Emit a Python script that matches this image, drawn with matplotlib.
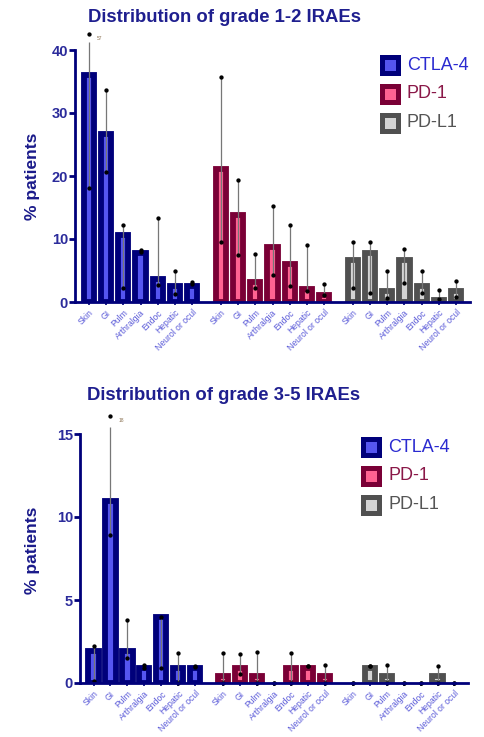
import matplotlib
matplotlib.use("Agg")
import matplotlib.pyplot as plt
from matplotlib.patches import Rectangle
import numpy as np

plt.rcParams['font.family'] = ['Liberation Sans', 'DejaVu Sans']

categories = ["Skin", "GI", "Pulm", "Arthralgia", "Endoc", "Hepatic", "Neurol or ocul"]
drugs = ["CTLA-4", "PD-1", "PD-L1"]

# grade 1-2: mean, min, max per drug
g12_mean = {
    "CTLA-4": [36.1, 26.7, 10.7, 7.8, 3.6, 2.6, 2.6],
    "PD-1":   [21.1, 13.8, 3.1, 8.8, 6.1, 2.1, 1.1],
    "PD-L1":  [6.6, 7.8, 1.7, 6.6, 2.6, 0.3, 1.7],
}
g12_min = {
    "CTLA-4": [18.1, 20.6, 2.3, 8.0, 2.7, 1.3, 2.9],
    "PD-1":   [9.6, 7.5, 2.2, 4.3, 2.6, 1.8, 1.1],
    "PD-L1":  [2.3, 1.4, 0.7, 3.0, 1.4, 0.4, 0.8],
}
g12_max = {
    "CTLA-4": [57, 33.6, 12.2, 8.3, 13.3, 5.0, 3.1],
    "PD-1":   [35.7, 19.4, 7.6, 15.3, 12.2, 9.1, 2.8],
    "PD-L1":  [9.6, 9.6, 5.0, 8.4, 5.0, 1.9, 3.4],
}

# grade 3-5
g35_mean = {
    "CTLA-4": [1.95, 10.95, 1.95, 0.88, 3.95, 0.9, 0.9],
    "PD-1":   [0.45, 0.93, 0.45, 0.0, 0.93, 0.93, 0.45],
    "PD-L1":  [0.0, 0.9, 0.45, 0.0, 0.0, 0.45, 0.0],
}
g35_min = {
    "CTLA-4": [0.15, 8.9, 1.5, 0.92, 0.9, 0.0, 0.95],
    "PD-1":   [0.0, 0.53, 0.0, 0.0, 0.0, 1.0, 0.0],
    "PD-L1":  [0.0, 1.0, 0.0, 0.0, 0.0, 0.0, 0.0],
}
g35_max = {
    "CTLA-4": [2.25, 18, 3.8, 1.1, 4.0, 1.8, 1.0],
    "PD-1":   [1.8, 1.73, 1.86, 0.0, 1.8, 1.0, 1.08],
    "PD-L1":  [0.0, 1.0, 1.08, 0.0, 0.0, 1.04, 0.0],
}

edge_colors = {"CTLA-4": "#00007a", "PD-1": "#7a0036", "PD-L1": "#505050"}
fill_colors = {"CTLA-4": "#5555f0", "PD-1": "#ff6392", "PD-L1": "#d4d4d4"}
text_colors = {"CTLA-4": "#2a2ad0", "PD-1": "#8a1848", "PD-L1": "#555555"}
navy = "#00007a"
label_blue = "#2b2b9b"
tick_blue = "#5a5ad8"

W, H = 484, 737
fig = plt.figure(figsize=(W / 100, H / 100), dpi=100)

group_offset = 7.65


def px_axes(l, r, top, bot):
    return fig.add_axes([l / W, 1 - bot / H, (r - l) / W, (bot - top) / H])


def draw_panel(ax, mean, mn, mx, ymax, yticks, cap_line, cap_dot, title, ty, legend_xy, ylabel_y):
    xs_all = []
    labels_all = []
    for gi, d in enumerate(drugs):
        xs = np.arange(len(categories)) + gi * group_offset
        m = np.array(mean[d])
        keep = m > 0
        ax.bar(xs[keep], m[keep], width=0.6, color=fill_colors[d], edgecolor=edge_colors[d],
               linewidth=4.2, joinstyle='miter', zorder=2)
        for x, lo, hi in zip(xs, mn[d], mx[d]):
            if hi > ymax:
                ax.plot([x, x], [lo, cap_line], color="#777777", lw=0.9, zorder=3,
                        solid_capstyle='butt', clip_on=False)
                ax.plot([x, x], [lo, cap_dot], 'o', color="black", ms=2.1, zorder=4, clip_on=False)
                ax.text(x + 0.45, cap_dot - 0.02 * ymax, f"{hi:g}", fontsize=3.5,
                        color="#8a7050", ha='left', va='center', clip_on=False)
            else:
                ax.plot([x, x], [lo, hi], color="#777777", lw=0.9, zorder=3, solid_capstyle='butt',
                        clip_on=False)
                ax.plot([x, x], [lo, hi], 'o', color="black", ms=2.1, zorder=4, clip_on=False)
        xs_all.extend(xs)
        labels_all.extend(categories)
    ax.set_ylim(0, ymax)
    ax.set_xlim(-0.8, 6 + 2 * group_offset + 0.8)
    for s in ["top", "right"]:
        ax.spines[s].set_visible(False)
    for s in ["left", "bottom"]:
        ax.spines[s].set_color(navy)
        ax.spines[s].set_linewidth(2.0)
        ax.spines[s].set_zorder(5)
    ax.set_yticks(yticks)
    ax.set_yticklabels([f"{t:g}" for t in yticks], fontsize=10.5, fontweight='bold', color=label_blue)
    ax.tick_params(axis='y', direction='out', length=4, width=2.0, color=navy, pad=1)
    ax.set_xticks(xs_all)
    ax.set_xticklabels(labels_all, rotation=45, ha='right', va='top', rotation_mode='anchor',
                       fontsize=6.2, color=tick_blue)
    ax.tick_params(axis='x', direction='out', length=2.5, width=1.2, color=navy, pad=2)
    fig.text(224 / W, 1 - ty / H, title, fontsize=13.3, fontweight='bold', color="#1f1f8f",
             ha='center', va='center')
    fig.text(33 / W, 1 - ylabel_y / H, "% patients", fontsize=12.5, fontweight='bold',
             color="#1a1a8a", rotation=90, ha='center', va='center')
    lx, ly = legend_xy
    for i, d in enumerate(drugs):
        cy = ly + i * 28.8
        fig.add_artist(Rectangle(((lx - 8) / W, 1 - (cy + 8) / H), 16 / W, 16 / H,
                                 transform=fig.transFigure, facecolor=fill_colors[d],
                                 edgecolor=edge_colors[d], linewidth=3.6, joinstyle='miter'))
        fig.text((lx + 17) / W, 1 - cy / H, d, fontsize=13, color=text_colors[d],
                 ha='left', va='center')


ax1 = px_axes(75, 470, 50, 302)
draw_panel(ax1, g12_mean, g12_min, g12_max, 40, [0, 10, 20, 30, 40], 41.2, 42.6,
           "Distribution of grade 1-2 IRAEs", 17, (390, 65), 176)

ax2 = px_axes(80, 468, 434, 683)
draw_panel(ax2, g35_mean, g35_min, g35_max, 15, [0, 5, 10, 15], 15.4, 16.1,
           "Distribution of grade 3-5 IRAEs", 396, (371, 447), 550)

fig.savefig("out.png", dpi=100)
